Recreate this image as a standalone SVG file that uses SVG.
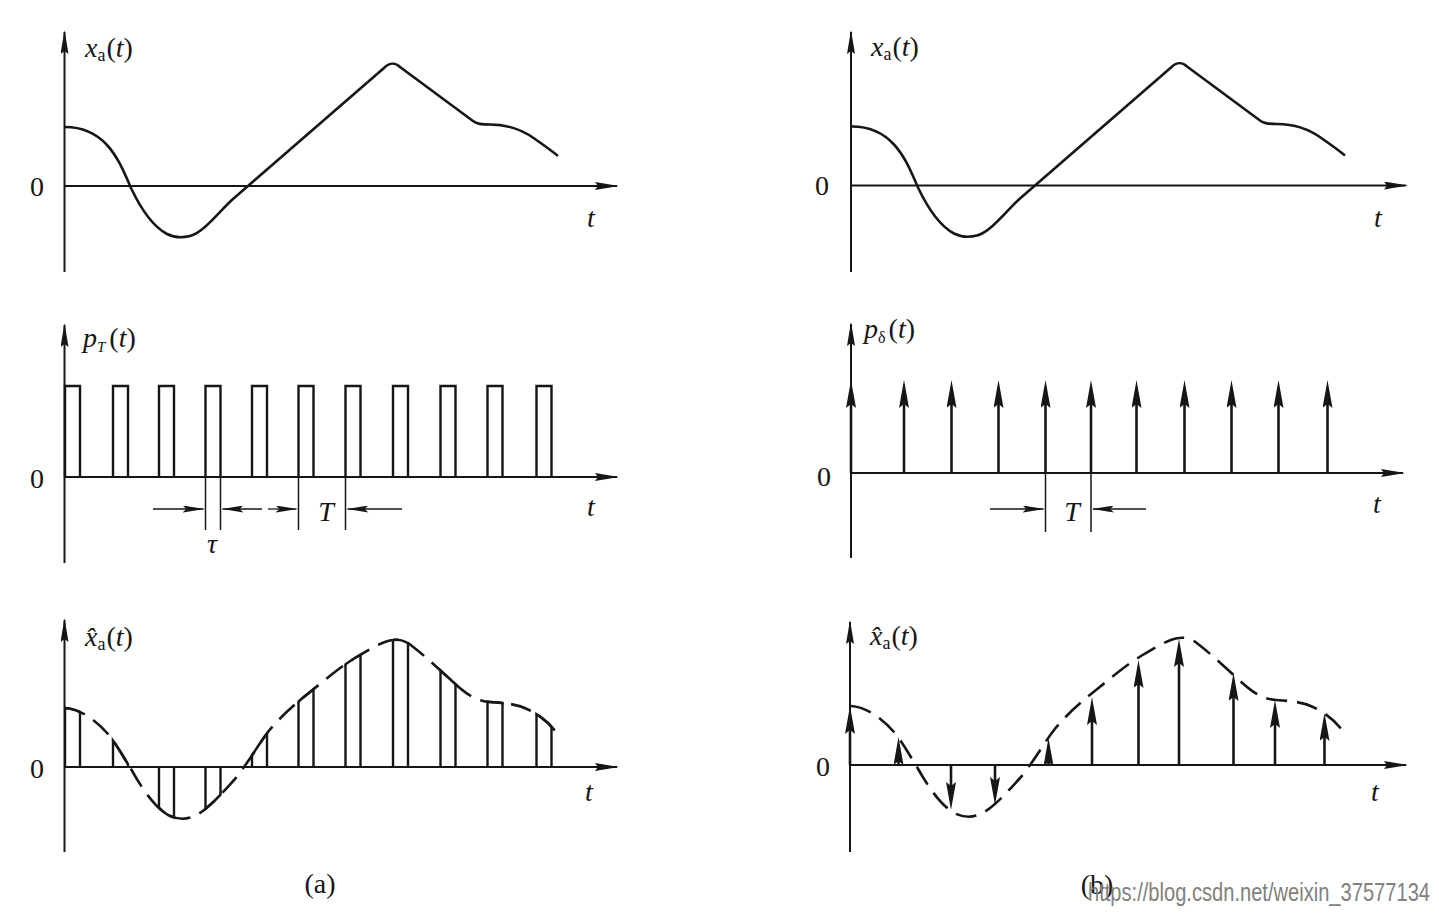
<svg xmlns="http://www.w3.org/2000/svg" width="1439" height="919" viewBox="0 0 1439 919">
<style>
.ax{stroke:#161616;stroke-width:2;fill:none}
.cv{stroke:#161616;stroke-width:2.6;fill:none;stroke-linejoin:round}
.ds{stroke-dasharray:21 10}
.pl{stroke:#161616;stroke-width:2.4;fill:none}
.dm{stroke:#161616;stroke-width:1.3;fill:none}
.ex{stroke:#161616;stroke-width:1.5}
.imp{stroke:#161616;stroke-width:2.6}
text{font-family:"Liberation Serif","Times New Roman",serif;fill:#161616;font-size:28px}
.i{font-style:italic}
.s{font-size:18px}
.wm{font-family:"Liberation Sans",Arial,sans-serif;fill:#808080;font-size:20px}
</style>
<defs>
<marker id="axh" markerUnits="userSpaceOnUse" viewBox="0 0 24 8" markerWidth="24" markerHeight="8" refX="22" refY="4" orient="auto"><path d="M0,0 L24,4 L0,8 L3,4 Z" fill="#161616"/></marker>
<marker id="imh" markerUnits="userSpaceOnUse" viewBox="0 0 28 10" markerWidth="28" markerHeight="10" refX="10" refY="5" orient="auto"><path d="M0,0 L28,5 L0,10 L4,5 Z" fill="#161616"/></marker>
<marker id="dmh" markerUnits="userSpaceOnUse" viewBox="0 0 22 7" markerWidth="22" markerHeight="7" refX="21" refY="3.5" orient="auto"><path d="M0,0 L22,3.5 L0,7 L4,3.5 Z" fill="#161616"/></marker>
<path id="xa" d="M65,127 C80,127 95,132 107,145 C118,157 124,172 131,188 C140,207 152,226 167,234 C174,237.5 182,238 190,236 C204,232.5 221,209.4 233,199 L384,68 C389,63 395,62 400,67 L473,121 C477,124 481,124.5 490,124.5 C505,124.5 520,128 535,139 C545,146 552,151 558,156"/>
<path id="xh" d="M65,708 C80,709 96,720 108,734 C118,746 125,760 131,769 C140,785 153,806 168,815 C176,819 184,820 192,817 C206,812 222,793 235,779 C248,763 258,745 268,732 C280,717 295,704 310,692 C325,680 340,667 355,658 C370,649 383,641 393,640 C400,639 406,641 412,646 C425,656 440,670 452,681 C465,693 475,701 490,702 C505,703 517,704 527,709 C540,715 550,724 556,732"/>
<clipPath id="areaL"><path d="M65,708 C80,709 96,720 108,734 C118,746 125,760 131,769 C140,785 153,806 168,815 C176,819 184,820 192,817 C206,812 222,793 235,779 C248,763 258,745 268,732 C280,717 295,704 310,692 C325,680 340,667 355,658 C370,649 383,641 393,640 C400,639 406,641 412,646 C425,656 440,670 452,681 C465,693 475,701 490,702 C505,703 517,704 527,709 C540,715 550,724 556,732 L556,767 L65,767 Z"/></clipPath>
<clipPath id="colsL">
<rect x="63.8" y="600" width="17.4" height="260"/><rect x="111.8" y="600" width="17.4" height="260"/><rect x="157.8" y="600" width="17.4" height="260"/><rect x="204.3" y="600" width="17.4" height="260"/><rect x="250.8" y="600" width="17.4" height="260"/><rect x="297.3" y="600" width="17.4" height="260"/><rect x="344.3" y="600" width="17.4" height="260"/><rect x="391.8" y="600" width="17.4" height="260"/><rect x="439.3" y="600" width="17.4" height="260"/><rect x="486.3" y="600" width="17.4" height="260"/><rect x="535.3" y="600" width="17.4" height="260"/>
</clipPath>
</defs>
<rect width="1439" height="919" fill="#ffffff"/>

<!-- (a) top -->
<g id="a-top">
<line class="ax" x1="64.5" y1="272" x2="64.5" y2="32" marker-end="url(#axh)"/>
<line class="ax" x1="64.5" y1="186" x2="617" y2="186" marker-end="url(#axh)"/>
<use href="#xa" class="cv"/>
<text x="85" y="57"><tspan class="i">x</tspan><tspan class="s" dy="4">a</tspan><tspan dy="-4" dx="1">(</tspan><tspan class="i">t</tspan>)</text>
<text x="37" y="196" text-anchor="middle">0</text>
<text x="591" y="227" text-anchor="middle" class="i">t</text>
</g>

<!-- (a) middle -->
<g id="a-mid">
<line class="ax" x1="64.5" y1="563" x2="64.5" y2="325" marker-end="url(#axh)"/>
<line class="ax" x1="64.5" y1="477" x2="617" y2="477" marker-end="url(#axh)"/>
<path class="pl" d="M65,477 V386 H80 V477 M113,477 V386 H128 V477 M159,477 V386 H174 V477 M205.5,477 V386 H220.5 V477 M252,477 V386 H267 V477 M298.5,477 V386 H313.5 V477 M345.5,477 V386 H360.5 V477 M393,477 V386 H408 V477 M440.5,477 V386 H455.5 V477 M487.5,477 V386 H502.5 V477 M536.5,477 V386 H551.5 V477"/>
<path class="ex" d="M205.5,477 V530 M220.5,477 V530 M298.5,477 V530 M345.5,477 V530"/>
<line class="dm" x1="153" y1="509" x2="203.5" y2="509" marker-end="url(#dmh)"/>
<line class="dm" x1="262" y1="509" x2="222.5" y2="509" marker-end="url(#dmh)"/>
<line class="dm" x1="268" y1="509" x2="296.5" y2="509" marker-end="url(#dmh)"/>
<line class="dm" x1="402" y1="509" x2="347.5" y2="509" marker-end="url(#dmh)"/>
<text x="83" y="347"><tspan class="i">p</tspan><tspan class="i" font-size="15" dy="5">T</tspan><tspan dy="-5" dx="4">(</tspan><tspan class="i">t</tspan>)</text>
<text x="212" y="553" text-anchor="middle" class="i">τ</text>
<text x="326" y="521" text-anchor="middle" class="i">T</text>
<text x="37" y="488" text-anchor="middle">0</text>
<text x="591" y="516" text-anchor="middle" class="i">t</text>
</g>

<!-- (a) bottom -->
<g id="a-bot">
<line class="ax" x1="64.5" y1="852" x2="64.5" y2="620" marker-end="url(#axh)"/>
<line class="ax" x1="64.5" y1="767" x2="617" y2="767" marker-end="url(#axh)"/>
<use href="#xh" class="cv ds"/>
<use href="#xh" class="cv" clip-path="url(#colsL)"/>
<g clip-path="url(#areaL)">
<path class="pl" d="M65,600 V860 M80,600 V860 M113,600 V860 M128,600 V860 M159,600 V860 M174,600 V860 M205.5,600 V860 M220.5,600 V860 M252,600 V860 M267,600 V860 M298.5,600 V860 M313.5,600 V860 M345.5,600 V860 M360.5,600 V860 M393,600 V860 M408,600 V860 M440.5,600 V860 M455.5,600 V860 M487.5,600 V860 M502.5,600 V860 M536.5,600 V860 M551.5,600 V860"/>
</g>
<text x="85" y="646"><tspan class="i">x̂</tspan><tspan class="s" dy="4">a</tspan><tspan dy="-4" dx="1">(</tspan><tspan class="i">t</tspan>)</text>
<text x="37" y="778" text-anchor="middle">0</text>
<text x="589" y="801" text-anchor="middle" class="i">t</text>
<text x="320" y="893" text-anchor="middle">(a)</text>
</g>

<!-- (b) top -->
<g id="b-top">
<line class="ax" x1="851" y1="272" x2="851" y2="32" marker-end="url(#axh)"/>
<line class="ax" x1="851" y1="185.5" x2="1406" y2="185.5" marker-end="url(#axh)"/>
<use href="#xa" class="cv" transform="translate(787,-0.5)"/>
<text x="871" y="56"><tspan class="i">x</tspan><tspan class="s" dy="4">a</tspan><tspan dy="-4" dx="1">(</tspan><tspan class="i">t</tspan>)</text>
<text x="822" y="195" text-anchor="middle">0</text>
<text x="1378" y="227" text-anchor="middle" class="i">t</text>
</g>

<!-- (b) middle -->
<g id="b-mid">
<line class="ax" x1="851" y1="558" x2="851" y2="324" marker-end="url(#axh)"/>
<line class="ax" x1="851" y1="473" x2="1403" y2="473" marker-end="url(#axh)"/>
<g class="imp" marker-end="url(#imh)">
<line x1="851" y1="473" x2="851" y2="398"/>
<line x1="904" y1="473" x2="904" y2="398"/>
<line x1="951.5" y1="473" x2="951.5" y2="398"/>
<line x1="998.5" y1="473" x2="998.5" y2="398"/>
<line x1="1045.5" y1="473" x2="1045.5" y2="398"/>
<line x1="1091" y1="473" x2="1091" y2="398"/>
<line x1="1136.5" y1="473" x2="1136.5" y2="398"/>
<line x1="1184.5" y1="473" x2="1184.5" y2="398"/>
<line x1="1231.5" y1="473" x2="1231.5" y2="398"/>
<line x1="1278.5" y1="473" x2="1278.5" y2="398"/>
<line x1="1327.5" y1="473" x2="1327.5" y2="398"/>
</g>
<path class="ex" d="M1045.5,473 V532 M1091,473 V532"/>
<line class="dm" x1="990" y1="509" x2="1043.5" y2="509" marker-end="url(#dmh)"/>
<line class="dm" x1="1146" y1="509" x2="1093" y2="509" marker-end="url(#dmh)"/>
<text x="864" y="338"><tspan class="i">p</tspan><tspan font-size="16" dy="5">δ</tspan><tspan dy="-5" dx="3">(</tspan><tspan class="i">t</tspan>)</text>
<text x="1072" y="521" text-anchor="middle" class="i">T</text>
<text x="824" y="486" text-anchor="middle">0</text>
<text x="1377" y="513" text-anchor="middle" class="i">t</text>
</g>

<!-- (b) bottom -->
<g id="b-bot">
<line class="ax" x1="850" y1="852" x2="850" y2="622" marker-end="url(#axh)"/>
<line class="ax" x1="850" y1="765" x2="1406" y2="765" marker-end="url(#axh)"/>
<use href="#xh" class="cv ds" transform="translate(786,-2)"/>
<g class="imp" marker-end="url(#imh)">
<line x1="850" y1="765" x2="850" y2="724"/>
<line x1="898.5" y1="765" x2="898.5" y2="755"/>
<line x1="951" y1="765" x2="951" y2="792"/>
<line x1="995" y1="765" x2="995" y2="787"/>
<line x1="1048.5" y1="765" x2="1048.5" y2="756"/>
<line x1="1092" y1="765" x2="1092" y2="715"/>
<line x1="1138.5" y1="765" x2="1138.5" y2="678"/>
<line x1="1179" y1="765" x2="1179" y2="657"/>
<line x1="1233.5" y1="765" x2="1233.5" y2="691"/>
<line x1="1275" y1="765" x2="1275" y2="718"/>
<line x1="1324.5" y1="765" x2="1324.5" y2="731"/>
</g>
<text x="870" y="645"><tspan class="i">x̂</tspan><tspan class="s" dy="4">a</tspan><tspan dy="-4" dx="1">(</tspan><tspan class="i">t</tspan>)</text>
<text x="823" y="776" text-anchor="middle">0</text>
<text x="1375" y="801" text-anchor="middle" class="i">t</text>
<text x="1097" y="894" text-anchor="middle">(b)</text>
</g>

<text class="wm" transform="translate(1088,901) scale(1,1.3)" x="0" y="0" textLength="342" lengthAdjust="spacingAndGlyphs">https://blog.csdn.net/weixin_37577134</text>
</svg>
